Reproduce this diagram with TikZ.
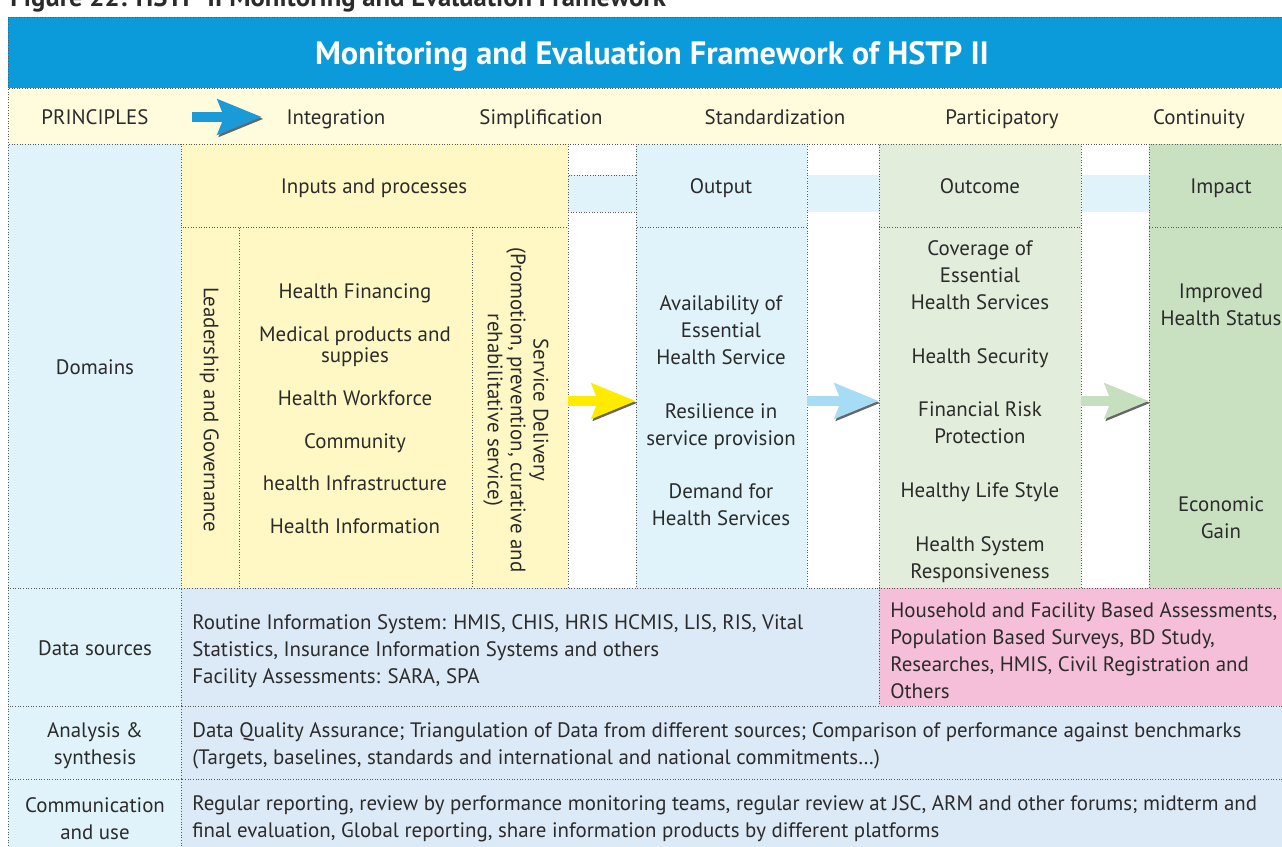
\documentclass[tikz,border=0pt]{standalone}
\usepackage{fontspec}
\setmainfont{PT Sans}
\usetikzlibrary{fit,arrows.meta}

\definecolor{titleblue}{HTML}{0B9ADA}
\definecolor{cream}{HTML}{FFFBDD}
\definecolor{labelblue}{HTML}{E0F3FB}
\definecolor{inyellow}{HTML}{FFF8C5}
\definecolor{outgreen}{HTML}{E2EDDC}
\definecolor{impgreen}{HTML}{C9E1C1}
\definecolor{srcblue}{HTML}{DCE9F6}
\definecolor{srcpink}{HTML}{F6BFD9}
\definecolor{txt}{HTML}{2B2B2B}
\definecolor{arryellow}{HTML}{FFEB00}
\definecolor{arrblue}{HTML}{A6DCF4}
\definecolor{arrgreen}{HTML}{C6DFBF}
\definecolor{arrprin}{HTML}{1A9AD6}

\tikzset{
  cell/.style={draw=black!65, densely dotted, line width=0.5pt, inner sep=0pt, outer sep=0pt, fill=#1},
  band/.style={fill=labelblue, inner sep=0pt, outer sep=0pt},
  lbl/.style={font=\fontsize{11.9}{15.3}\selectfont, text=txt, align=center, inner sep=0pt, yshift=-1.1pt},
  word/.style={lbl, text height=8.6pt, text depth=2.8pt},
  para/.style={lbl, align=left, anchor=west},
  flowarrow/.style={draw=#1, line width=5.7pt,
    -{Stealth[length=25pt,width=19.5pt,inset=3.5pt]},
    preaction={draw=black!60, transform canvas={shift={(0.9pt,-1.1pt)}}}}
}

\begin{document}
\begin{tikzpicture}[x=0.02cm,y=-0.02cm]
  \useasboundingbox (0,0) rectangle (1282,847);

  \node[anchor=base west, inner sep=0pt, text=txt, font=\fontsize{15.2}{18}\selectfont\bfseries] (caption) at (10,7) {Figure 22: HSTP-II Monitoring and Evaluation Framework};

  \node[cell=titleblue, fit={(8,17)(1292,88)}] (title) {};
  \node[text=white, font=\fontsize{18.4}{22}\selectfont\bfseries, yshift=-1.6pt] (titletext) at (652,54) {Monitoring and Evaluation Framework of HSTP II};

  \node[cell=cream, fit={(8,88)(1292,144)}] (principles) {};
  \node[word] (prin) at (95,117) {PRINCIPLES};
  \coordinate (pstart) at (192,117);
  \coordinate (pend) at (262,117);
  \draw[flowarrow=arrprin, line width=6.2pt] (pstart) -- (pend);
  \node[word] (integ) at (336,117) {Integration};
  \node[word] (simpl) at (541,117) {Simplification};
  \node[word] (stand) at (775,117) {Standardization};
  \node[word] (parti) at (1002,117) {Participatory};
  \node[word] (conti) at (1199,117) {Continuity};

  \node[cell=labelblue, fit={(8,144)(181,588)}] (domains) {};
  \node[word] at (95,367) {Domains};

  \node[cell=inyellow, fit={(181,144)(568,227)}] (inhead) {};
  \node[word] at (374,186) {Inputs and processes};
  \node[cell=inyellow, fit={(181,227)(239,588)}] (lead) {};
  \node[cell=inyellow, fit={(239,227)(472,588)}] (blocks) {};
  \node[cell=inyellow, fit={(472,227)(568,588)}] (sd) {};
  \node[word, rotate=-90, yshift=1.1pt] (leadtext) at (207,408) {Leadership and Governance};
  \node[word] (fin) at (355,291) {Health Financing};
  \node[lbl, font=\fontsize{11.9}{12.2}\selectfont] (med) at (355,345) {Medical products and\\suppies};
  \node[word] (work) at (355,398) {Health Workforce};
  \node[word] (comm) at (355,441) {Community};
  \node[word] (infra) at (355,483) {health Infrastructure};
  \node[word] (info) at (355,526) {Health Information};
  \node[lbl, rotate=-90, yshift=1.1pt, font=\fontsize{11.9}{13}\selectfont] (sdtext) at (514,408) {Service Delivery\\(Promotion, prevention, curative and\\rehabilitative service)};

  \node[cell=white, fit={(568,144)(636,588)}] (gapa) {};
  \node[cell=labelblue, fit={(568,175)(636,212)}] (banda) {};

  \node[cell=labelblue, fit={(636,144)(807,227)}] (outhead) {};
  \node[word] at (721,186) {Output};
  \node[cell=labelblue, fit={(636,227)(807,588)}] (out) {};
  \node[lbl] (outtext) at (721,409) {Availability of\\Essential\\Health Service\\[15.3pt]Resilience in\\service provision\\[15.3pt]Demand for\\Health Services};

  \node[cell=white, fit={(807,144)(879,588)}] (gapb) {};
  \node[band, fit={(807.5,175)(878.5,212)}] (bandb) {};

  \node[cell=outgreen, fit={(879,144)(1081,227)}] (outchead) {};
  \node[word] at (980,186) {Outcome};
  \node[cell=outgreen, fit={(879,227)(1081,588)}] (outc) {};
  \node[lbl] (outctext) at (980,409.5) {Coverage of\\Essential\\Health Services\\[15.3pt]Health Security\\[15.3pt]Financial Risk\\Protection\\[15.3pt]Healthy Life Style\\[15.3pt]Health System\\Responsiveness};

  \node[cell=white, fit={(1081,144)(1149,588)}] (gapc) {};
  \node[band, fit={(1081.5,175)(1148.5,212)}] (bandc) {};

  \node[cell=impgreen, fit={(1149,144)(1292,227)}] (imphead) {};
  \node[word] at (1221,186) {Impact};
  \node[cell=impgreen, fit={(1149,227)(1292,588)}] (imp) {};
  \node[lbl] (health) at (1221,302.5) {Improved\\Health Status};
  \node[lbl] (econ) at (1221,515.5) {Economic\\Gain};

  \coordinate (flow) at (0,401);
  \draw[flowarrow=arryellow] (sd.east |- flow) -- (out.west |- flow);
  \draw[flowarrow=arrblue] (out.east |- flow) -- (outc.west |- flow);
  \draw[flowarrow=arrgreen] (outc.east |- flow) -- (imp.west |- flow);

  \node[cell=labelblue, fit={(8,588)(181,706)}] (srclabel) {};
  \node[word] at (95,648) {Data sources};
  \node[cell=srcblue, fit={(181,588)(879,706)}] (routine) {};
  \node[para] at (192,649) {Routine Information System: HMIS, CHIS, HRIS HCMIS, LIS, RIS, Vital\\Statistics, Insurance Information Systems and others\\Facility Assessments: SARA, SPA};
  \node[cell=srcpink, fit={(879,588)(1292,706)}] (surveys) {};
  \node[para] at (890,649) {Household and Facility Based Assessments,\\Population Based Surveys, BD Study,\\Researches, HMIS, Civil Registration and\\Others};

  \node[cell=labelblue, fit={(8,706)(181,779)}] (analabel) {};
  \node[lbl] at (95,744) {Analysis \&\\synthesis};
  \node[cell=srcblue, fit={(181,706)(1292,779)}] (analysis) {};
  \node[para] at (192,744) {Data Quality Assurance; Triangulation of Data from different sources; Comparison of performance against benchmarks\\(Targets, baselines, standards and international and national commitments\dots)};

  \node[cell=labelblue, fit={(8,779)(181,860)}] (commlabel) {};
  \node[lbl] at (95,817) {Communication\\and use};
  \node[cell=srcblue, fit={(181,779)(1292,860)}] (commuse) {};
  \node[para] at (192,817) {Regular reporting, review by performance monitoring teams, regular review at JSC, ARM and other forums; midterm and\\final evaluation, Global reporting, share information products by different platforms};
\end{tikzpicture}
\end{document}
